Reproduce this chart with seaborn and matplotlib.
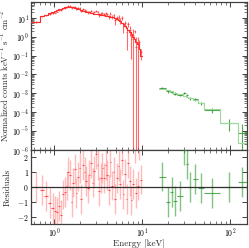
import numpy as np
import matplotlib
matplotlib.use("Agg")
import matplotlib.pyplot as plt
import seaborn as sns
from matplotlib.ticker import LogLocator, NullFormatter, MultipleLocator

# ---------------- data ----------------
red_edges = [0.55, 0.70, 0.78, 0.86, 0.93, 1.00, 1.06, 1.12, 1.18, 1.24, 1.30, 1.36,
             1.42, 1.48, 1.55, 1.62, 1.69, 1.76, 1.84, 1.92, 2.00, 2.09, 2.18, 2.27,
             2.37, 2.47, 2.58, 2.69, 2.81, 2.93, 3.06, 3.19, 3.33, 3.47, 3.62, 3.78,
             3.94, 4.11, 4.29, 4.48, 4.67, 4.87, 5.08, 5.30, 5.53, 5.77, 6.02, 6.28,
             6.55, 6.83, 7.12, 7.42, 7.74, 8.07, 8.41, 8.77, 9.14, 9.53, 10.0]
red_model = [6.0, 12, 14, 17, 20, 22, 25, 28, 30, 33, 35, 37,
             38, 39, 38, 36, 34, 32, 30, 28, 26, 24, 22, 21,
             20, 19, 18, 17, 16.5, 16, 15.5, 15, 14.5, 14, 13.5, 13,
             12.5, 12, 11.5, 11, 10.5, 9.5, 8.5, 7.5, 6.5, 5.5, 4.5, 3.6,
             2.9, 2.3, 1.8, 1.35, 1.0, 0.75, 0.55, 0.4, 0.22, 0.1]
red_resid = [0.0, -0.2, -0.6, -1.1, -1.4, -1.6, -1.7, -1.3, -1.9, -0.5, -0.35, 0.1,
             1.0, 0.8, -1.0, 0.3, 1.2, -0.4, 0.7, 1.3, -0.8, 1.5, 1.0, 0.4,
             -0.1, 0.8, 1.6, 0.3, 1.1, 2.2, 1.5, -0.3, 0.6, 1.3, 0.6, 1.5,
             0.8, -0.2, 1.7, 0.1, 1.0, -0.8, 0.6, 1.4, 0.2, 1.8, -0.5, 0.9,
             -0.8, 1.6, 0.4, -0.9, 0.2, 2.6, -0.4, 0.1, 2.8, 0.5]
red_relerr = [0.12, 0.10, 0.10, 0.09, 0.09, 0.09, 0.09, 0.09, 0.09, 0.09, 0.09, 0.09,
              0.10, 0.10, 0.10, 0.11, 0.11, 0.11, 0.12, 0.12, 0.13, 0.13, 0.14, 0.14,
              0.15, 0.15, 0.16, 0.16, 0.17, 0.18, 0.18, 0.19, 0.20, 0.21, 0.22, 0.23,
              0.24, 0.25, 0.26, 0.27, 0.28, 0.30, 0.32, 0.34, 0.37, 0.40, 0.44, 0.48,
              0.52, 0.58, 0.65, 0.50, 1.40, 0.60, 1.15, 1.30, 0.50, 0.90]

green_edges = [15.5, 18.8, 20.8, 22.8, 25.3, 29.0, 31.7, 33.7, 37.5, 43.0, 50.0, 76.0, 122.0, 155.0]
green_model = [1.7e-3, 1.45e-3, 1.25e-3, 1.1e-3, 9.0e-4, 7.5e-4, 6.6e-4, 5.6e-4,
               4.3e-4, 3.0e-4, 1.4e-4, 2.6e-5, 2.3e-6]
green_resid = [0.7, -1.0, -0.33, -0.95, -0.6, 2.5, 1.56, 0.0, 0.55, -0.05, -0.4, 0.0, 0.35]
green_relerr = [0.12, 0.12, 0.13, 0.13, 0.14, 0.15, 0.16, 0.17, 0.18, 0.20, 0.25, 0.6, 6.5]

x_label = "Energy [keV]"
y_label_top = r"Normalized counts keV$^{-1}$ s$^{-1}$ cm$^{-2}$"
y_label_bottom = "Residuals"


def binned(edges, model, resid, relerr):
    e = np.asarray(edges, float)
    m = np.asarray(model, float)
    r = np.asarray(resid, float)
    rel = np.asarray(relerr, float)
    lo, hi = e[:-1], e[1:]
    c = np.sqrt(lo * hi)
    err = m * rel
    data = m + r * err
    return lo, hi, c, m, r, err, data


# ---------------- style ----------------
sns.set_style("ticks")
plt.rcParams.update({
    "font.family": "serif",
    "font.serif": ["cmr10", "DejaVu Serif"],
    "mathtext.fontset": "cm",
    "axes.unicode_minus": False,
    "axes.formatter.use_mathtext": True,
    "axes.edgecolor": "#404040",
    "axes.linewidth": 0.9,
})

fig = plt.figure(figsize=(2.49, 2.48), dpi=100)
L, R = 31 / 249, 247 / 249
ax1 = fig.add_axes([L, 1 - 150 / 248, R - L, 148 / 248])
ax2 = fig.add_axes([L, 1 - 224 / 248, R - L, 74 / 248], sharex=ax1)

RED_D = "#ff2a2a"
RED_L = "#ff8c8c"
GRN_D = "#2f9a2f"
GRN_L = "#9fd89f"

for (edges, model, resid, relerr, dcol, mcol, lcol, a_top) in [
        (red_edges, red_model, red_resid, red_relerr, RED_D, RED_D, RED_L, 0.7),
        (green_edges, green_model, green_resid, green_relerr, GRN_D, GRN_L, GRN_D, 0.85)]:
    lo, hi, c, m, r, err, data = binned(edges, model, resid, relerr)
    xerr = [c - lo, hi - c]
    ax1.errorbar(c, data, yerr=err, xerr=xerr, fmt="none", ecolor=dcol,
                 elinewidth=0.8, alpha=a_top, zorder=2)
    sns.lineplot(x=list(edges), y=list(model) + [model[-1]], ax=ax1,
                 drawstyle="steps-post", estimator=None, sort=False,
                 color=mcol, lw=0.8, zorder=3)
    ax2.errorbar(c, r, yerr=np.ones_like(r), fmt="none", ecolor=lcol,
                 elinewidth=1.0, alpha=0.6, zorder=2)
    ax2.errorbar(c, r, xerr=xerr, fmt="none", ecolor=dcol,
                 elinewidth=0.8, alpha=0.8, zorder=3)

ax2.axhline(0, color="#303030", lw=0.9, zorder=4)

# ---------------- axes ----------------
ax1.set_xscale("log")
ax1.set_yscale("log")
ax1.set_xlim(0.548, 156)
ax1.set_ylim(1e-6, 68)
ax2.set_ylim(-2.5, 2.5)
ax2.yaxis.set_major_locator(MultipleLocator(1))

ax1.yaxis.set_major_locator(LogLocator(base=10, numticks=20))
ax1.yaxis.set_minor_locator(LogLocator(base=10, subs=np.arange(2, 10), numticks=20))
ax1.yaxis.set_minor_formatter(NullFormatter())
ax2.xaxis.set_minor_formatter(NullFormatter())

for ax in (ax1, ax2):
    ax.tick_params(which="both", direction="in", top=True, right=True,
                   labelsize=5.6, colors="#404040", labelcolor="black", pad=1.5)
    ax.tick_params(which="major", length=3.5, width=0.7)
    ax.tick_params(which="minor", length=2, width=0.5)
ax1.tick_params(labelbottom=False)

ax1.set_ylabel(y_label_top, fontsize=6.1)
ax2.set_ylabel(y_label_bottom, fontsize=6.5)
ax2.set_xlabel(x_label, fontsize=6.5, labelpad=0.5)
ax1.yaxis.set_label_coords(-0.09, 0.5)
ax2.yaxis.set_label_coords(-0.09, 0.5)

fig.savefig("out.png", dpi=100)
